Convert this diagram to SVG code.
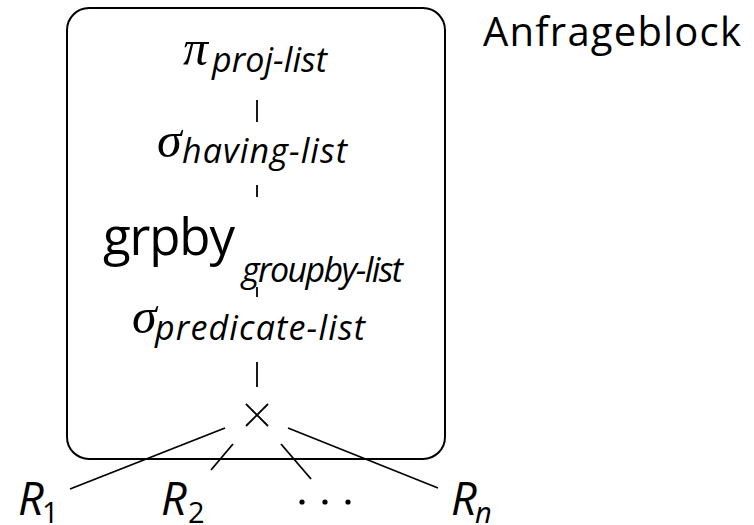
<svg xmlns="http://www.w3.org/2000/svg" width="754" height="525" viewBox="0 0 754 525">
  <style>
    .sans { font-family: "Open Sans", "Noto Sans", sans-serif; fill: #000; }
    .sub { font-family: "Open Sans", "Noto Sans", sans-serif; font-style: italic; font-size: 34px; fill: #000; }
    .greek { font-family: "Liberation Serif", "DejaVu Serif", serif; font-style: italic; font-size: 50px; fill: #000; }
    .rel { font-family: "Open Sans", "Noto Sans", sans-serif; font-style: italic; font-size: 45px; fill: #000; }
    .relsub { font-family: "Open Sans", "Noto Sans", sans-serif; font-size: 29px; fill: #000; }
    .edge { stroke: #000; stroke-width: 1.8; fill: none; }
  </style>
  <rect width="754" height="525" fill="#fff"/>

  <!-- query block frame -->
  <g id="block">
    <rect x="67" y="8" width="378" height="451" rx="22" ry="22" fill="none" stroke="#000" stroke-width="2"/>
    <text class="sans" x="483" y="46" font-size="40" textLength="258">Anfrageblock</text>
  </g>

  <g id="edges">
    <line class="edge" x1="257" y1="100" x2="257" y2="122"/>
    <line class="edge" x1="257" y1="185" x2="257" y2="197"/>
    <line class="edge" x1="257" y1="287" x2="257" y2="297"/>
    <line class="edge" x1="257" y1="362" x2="257" y2="387"/>
    <line class="edge" x1="225" y1="428" x2="70" y2="489"/>
    <line class="edge" x1="233" y1="444" x2="211" y2="470"/>
    <line class="edge" x1="281" y1="444" x2="311" y2="479"/>
    <line class="edge" x1="288" y1="428" x2="438" y2="488"/>
  </g>

  <g id="proj">
    <text class="greek" x="183" y="65" font-size="54">π</text>
    <text class="sub" x="212" y="72" textLength="115">proj-list</text>
  </g>

  <g id="having">
    <text class="greek" x="157" y="157">σ</text>
    <text class="sub" x="182" y="163" textLength="165">having-list</text>
  </g>

  <g id="grpby">
    <text class="sans" x="103" y="255" font-size="51" textLength="132">grpby</text>
    <text class="sub" x="242" y="282" font-size="30" textLength="161">groupby-list</text>
  </g>

  <g id="predicate">
    <text class="greek" x="132" y="333">σ</text>
    <text class="sub" x="155" y="340" textLength="210">predicate-list</text>
  </g>

  <g id="cross">
    <line class="edge" x1="246" y1="404" x2="268" y2="426"/>
    <line class="edge" x1="268" y1="404" x2="246" y2="426"/>
  </g>

  <g id="r1">
    <text class="rel" x="18" y="515">R</text>
    <text class="relsub" x="42" y="523">1</text>
  </g>

  <g id="r2">
    <text class="rel" x="161" y="515">R</text>
    <text class="relsub" x="188" y="523">2</text>
  </g>

  <g id="dots">
    <circle cx="302" cy="502" r="2.6"/>
    <circle cx="325" cy="502" r="2.6"/>
    <circle cx="348" cy="502" r="2.6"/>
  </g>

  <g id="rn">
    <text class="rel" x="451" y="515">R</text>
    <text class="relsub" x="475" y="523" font-style="italic">n</text>
  </g>
</svg>
